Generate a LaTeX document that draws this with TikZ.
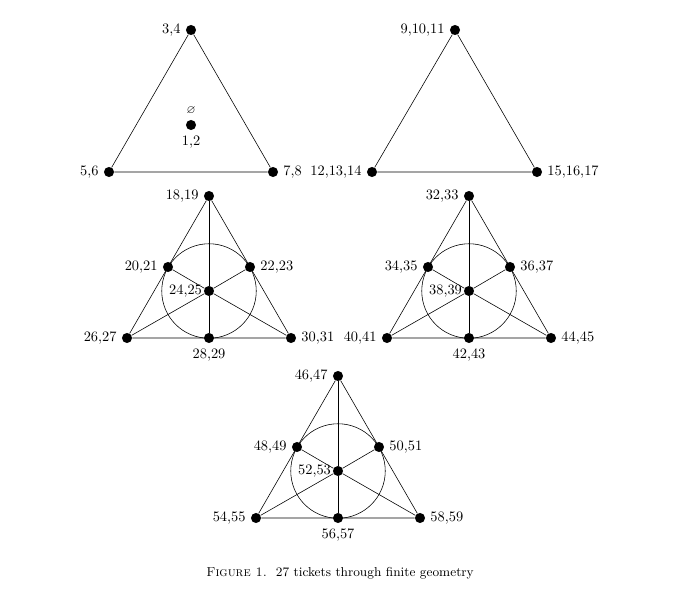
\documentclass[tikz,border=0pt]{standalone}
\usepackage{amssymb}
\tikzset{
  pt/.style={circle,fill,inner sep=0pt,minimum size=7pt}
}
\begin{document}
\begin{tikzpicture}[x=0.0244cm,y=-0.0244cm]
\useasboundingbox (0,0) rectangle (700,594);
% the two plain triangles
\node[pt,label=left:{3,4}] (a1) at (191,30) {};
\node[pt,label=left:{5,6}] (a2) at (109,172) {};
\node[pt,label=right:{7,8}] (a3) at (273,172) {};
\node[pt,label={[font=\footnotesize]above:{$\varnothing$}},label=below:{1,2}] (a0) at (191,125) {};
\draw (a1) -- (a2) -- (a3) -- (a1);
\node[pt,label=left:{9,10,11}] (b1) at (455,30) {};
\node[pt,label=left:{12,13,14}] (b2) at (372,172) {};
\node[pt,label=right:{15,16,17}] (b3) at (537,172) {};
\draw (b1) -- (b2) -- (b3) -- (b1);
% the three Fano planes
\foreach \cx/\cy/\n in {209/291/18, 469/291/32, 338/471/46} {
  \pgfmathtruncatemacro\na{\n+1}
  \pgfmathtruncatemacro\nb{\n+2}
  \pgfmathtruncatemacro\nc{\n+3}
  \pgfmathtruncatemacro\nd{\n+4}
  \pgfmathtruncatemacro\ne{\n+5}
  \pgfmathtruncatemacro\nf{\n+6}
  \pgfmathtruncatemacro\ng{\n+7}
  \pgfmathtruncatemacro\nh{\n+8}
  \pgfmathtruncatemacro\ni{\n+9}
  \pgfmathtruncatemacro\nj{\n+10}
  \pgfmathtruncatemacro\nk{\n+11}
  \pgfmathtruncatemacro\nl{\n+12}
  \pgfmathtruncatemacro\nm{\n+13}
  \draw (\cx,\cy) circle [radius=32.8pt];
  \node[pt,label=left:{\n,\na}] (t\n) at (\cx,\cy-95) {};
  \node[pt,label=left:{\nb,\nc}] (l\n) at (\cx-41,\cy-24) {};
  \node[pt,label=right:{\nd,\ne}] (r\n) at (\cx+41,\cy-24) {};
  \node[pt,label={[inner sep=1pt]left:{\nf,\ng}}] (c\n) at (\cx,\cy) {};
  \node[pt,label=left:{\nh,\ni}] (bl\n) at (\cx-82,\cy+47) {};
  \node[pt,label=below:{\nj,\nk}] (m\n) at (\cx,\cy+47) {};
  \node[pt,label=right:{\nl,\nm}] (br\n) at (\cx+82,\cy+47) {};
  \draw (t\n) -- (bl\n) -- (br\n) -- (t\n);
  \draw (t\n) -- (c\n) -- (m\n);
  \draw (bl\n) -- (c\n) -- (r\n);
  \draw (br\n) -- (c\n) -- (l\n);
}
\node[font=\small] (cap) at (340,573) {\textsc{Figure 1.}\ \ 27 tickets through finite geometry};
\end{tikzpicture}
\end{document}
